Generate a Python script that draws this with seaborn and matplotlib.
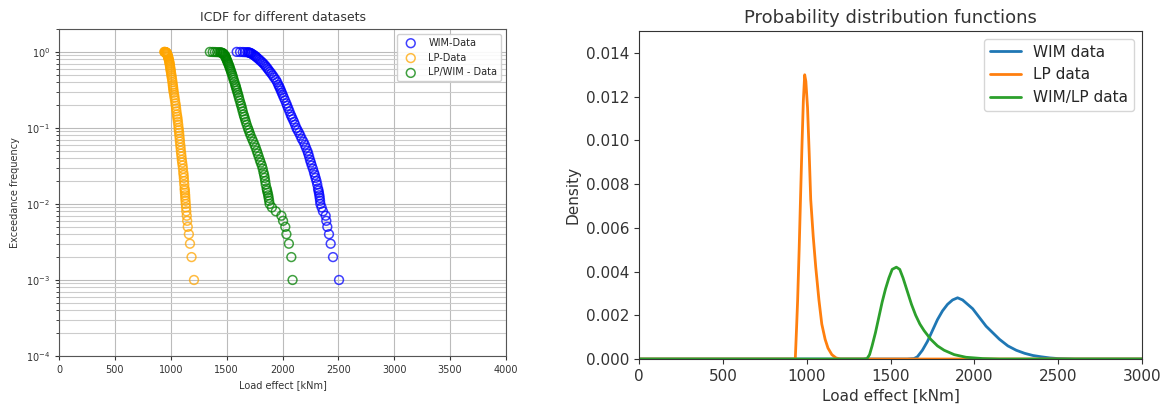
import matplotlib
matplotlib.use("Agg")
import matplotlib.pyplot as plt
import matplotlib.ticker as mticker
import seaborn as sns
import pandas as pd
import numpy as np

# ---------------- ICDF data (exceedance frequency vs load effect) -------------
# exceedance levels shared by the three data sets
exceed_p = [1.0, 0.998, 0.996, 0.993, 0.99, 0.985, 0.98, 0.97, 0.96, 0.95, 0.93, 0.91,
            0.89, 0.87, 0.85, 0.82, 0.79, 0.76, 0.73, 0.7, 0.67, 0.64, 0.61, 0.58,
            0.55, 0.52, 0.49, 0.46, 0.43, 0.40, 0.37, 0.35, 0.33, 0.31, 0.29, 0.27,
            0.25, 0.23, 0.21, 0.195, 0.18, 0.165, 0.15, 0.14, 0.13, 0.12, 0.11, 0.10,
            0.093, 0.086, 0.079, 0.072, 0.066, 0.06, 0.055, 0.05, 0.046, 0.042, 0.038,
            0.035, 0.032, 0.029, 0.026, 0.024, 0.022, 0.020, 0.018, 0.016, 0.015,
            0.014, 0.013, 0.012, 0.011,
            0.010, 0.009, 0.008, 0.007, 0.006, 0.005, 0.004, 0.003, 0.002, 0.001]

wim_x = [1590, 1620, 1645, 1665, 1685, 1695, 1702, 1710, 1716, 1722, 1732, 1742,
         1752, 1760, 1768, 1780, 1792, 1805, 1818, 1830, 1842, 1853, 1864, 1875,
         1887, 1900, 1913, 1925, 1940, 1952, 1962, 1970, 1978, 1986, 1994, 2003,
         2012, 2023, 2034, 2042, 2052, 2062, 2073, 2082, 2092, 2103, 2113, 2124,
         2135, 2148, 2160, 2172, 2187, 2200, 2210, 2222, 2230, 2238, 2246,
         2254, 2262, 2272, 2282, 2289, 2296, 2304, 2311, 2318, 2322,
         2326, 2330, 2333, 2336,
         2339, 2350, 2362, 2386, 2392, 2401, 2416, 2431, 2452, 2506]

lp_x = [942, 946, 949, 952, 955, 958, 960, 962, 964, 966, 968, 970,
        973, 975, 977, 980, 983, 985, 988, 990, 992, 994, 996, 998,
        1001, 1003, 1006, 1009, 1012, 1015, 1018, 1020, 1022, 1024, 1027, 1031,
        1034, 1038, 1042, 1045, 1048, 1051, 1055, 1058, 1061, 1064, 1067, 1070,
        1072, 1075, 1077, 1080, 1082, 1085, 1088, 1090, 1093, 1096, 1099,
        1102, 1106, 1109, 1112, 1115, 1117, 1119, 1121, 1124, 1126,
        1127, 1129, 1130, 1132,
        1134, 1137, 1139, 1143, 1147, 1152, 1162, 1172, 1186, 1208]

lpwim_x = [1350, 1375, 1395, 1415, 1435, 1445, 1452, 1460, 1465, 1470, 1476, 1481,
           1485, 1489, 1492, 1496, 1500, 1505, 1510, 1515, 1520, 1525, 1530, 1535,
           1540, 1546, 1552, 1557, 1563, 1570, 1577, 1582, 1587, 1592, 1598, 1604,
           1610, 1617, 1625, 1631, 1638, 1644, 1652, 1658, 1665, 1672, 1680, 1690,
           1698, 1706, 1715, 1727, 1738, 1750, 1760, 1770, 1778, 1787, 1797,
           1805, 1815, 1823, 1830, 1836, 1841, 1845, 1850, 1858, 1862,
           1867, 1872, 1876, 1880,
           1885, 1905, 1940, 1990, 2005, 2025, 2035, 2057, 2079, 2090]

# ---------------- PDF data (density vs load effect) ---------------------------
wim_pdf_x = [0, 1600, 1640, 1660, 1690, 1720, 1750, 1780, 1810, 1840, 1870, 1900,
             1930, 1960, 1990, 2030, 2070, 2110, 2150, 2200, 2250, 2300, 2350,
             2400, 2450, 2500, 2600, 3000]
wim_pdf_y = [0, 0, 0.00002, 0.0001, 0.0004, 0.0008, 0.0013, 0.0018, 0.0022, 0.0025,
             0.0027, 0.0028, 0.0027, 0.0025, 0.0023, 0.0019, 0.0015, 0.0012, 0.0009,
             0.0006, 0.0004, 0.00026, 0.00016, 0.0001, 0.00005, 0.00002, 0, 0]

lp_pdf_x = [0, 925, 932, 940, 946, 955, 963, 972, 980, 988, 995, 1005, 1015, 1024,
            1039, 1054, 1073, 1090, 1110, 1127, 1150, 1175, 1200, 3000]
lp_pdf_y = [0, 0, 0, 0.0015, 0.0027, 0.0050, 0.0073, 0.0098, 0.0118, 0.0130, 0.0127,
            0.0115, 0.0094, 0.0073, 0.0056, 0.0042, 0.0027, 0.0016, 0.0009, 0.0005,
            0.0002, 0.00005, 0, 0]

wimlp_pdf_x = [0, 1340, 1360, 1375, 1390, 1410, 1430, 1450, 1470, 1490, 1510, 1535,
               1555, 1575, 1600, 1625, 1650, 1675, 1700, 1740, 1780, 1820, 1880,
               1950, 2050, 2150, 3000]
wimlp_pdf_y = [0, 0, 0.00002, 0.0002, 0.0006, 0.0012, 0.0019, 0.0026, 0.0032, 0.0037,
               0.0041, 0.0042, 0.0041, 0.0037, 0.0031, 0.0025, 0.0020, 0.0016, 0.0013,
               0.0009, 0.0006, 0.0004, 0.0002, 0.00008, 0.00002, 0, 0]

sns.set_style("ticks")
plt.rcParams['font.family'] = ['DejaVu Sans']

fig = plt.figure(figsize=(11.64, 4.11), dpi=100)

# ---------------- Left panel ----------------
ax1 = fig.add_axes([0.0507, 0.1338, 0.384, 0.7956])
series = [("WIM-Data", wim_x, "blue"),
          ("LP-Data", lp_x, "orange"),
          ("LP/WIM - Data", lpwim_x, "green")]
for name, xs, col in series:
    df = pd.DataFrame({"x": xs, "p": exceed_p})
    sns.scatterplot(data=df, x="x", y="p", ax=ax1, marker="o", s=40,
                    facecolors="none", edgecolor=col, linewidth=1.1,
                    alpha=0.75, label=name)
ax1.set_yscale("log")
ax1.set_xlim(0, 4000)
ax1.set_ylim(1e-4, 2)
ax1.set_xticks(np.arange(0, 4001, 500))
ax1.grid(True, which="major", color="#bbbbbb", linewidth=0.8)
ax1.grid(True, which="minor", axis="y", color="#cccccc", linewidth=0.8)
ax1.set_axisbelow(True)
ax1.tick_params(labelsize=7, colors="#333333", length=3)
ax1.set_title("ICDF for different datasets", fontsize=9, color="#333333")
ax1.set_xlabel("Load effect [kNm]", fontsize=7, color="#333333")
ax1.set_ylabel("Exceedance frequency", fontsize=7, color="#333333")
ax1.legend(loc="upper right", fontsize=7, frameon=True, framealpha=0.9)
for s in ax1.spines.values():
    s.set_color("#555555")

# ---------------- Right panel ----------------
ax2 = fig.add_axes([0.549, 0.1265, 0.4321, 0.798])
pdf_series = [("WIM data", wim_pdf_x, wim_pdf_y, "#1f77b4"),
              ("LP data", lp_pdf_x, lp_pdf_y, "#ff7f0e"),
              ("WIM/LP data", wimlp_pdf_x, wimlp_pdf_y, "#2ca02c")]
for name, xs, ys, col in pdf_series:
    df = pd.DataFrame({"x": xs, "y": ys})
    sns.lineplot(data=df, x="x", y="y", ax=ax2, color=col, linewidth=2, label=name)
ax2.set_xlim(0, 3000)
ax2.set_ylim(0, 0.015)
ax2.set_xticks(np.arange(0, 3001, 500))
ax2.set_yticks(np.arange(0, 0.0141, 0.002))
ax2.yaxis.set_major_formatter(mticker.FormatStrFormatter("%.3f"))
ax2.tick_params(labelsize=11, colors="#333333")
ax2.set_title("Probability distribution functions", fontsize=13, color="#333333")
ax2.set_xlabel("Load effect [kNm]", fontsize=11, color="#333333")
ax2.set_ylabel("Density", fontsize=11, color="#333333")
ax2.legend(loc="upper right", fontsize=11)
for s in ax2.spines.values():
    s.set_color("#333333")

fig.savefig("out.png", dpi=100)
